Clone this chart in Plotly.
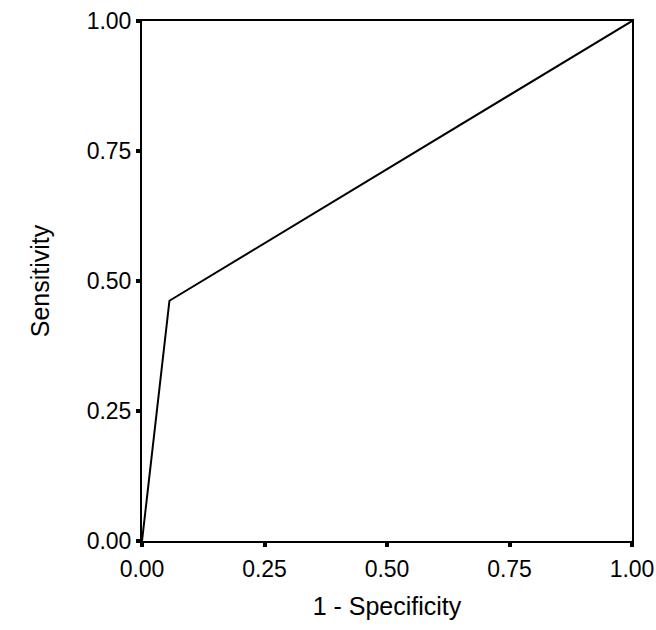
import plotly.graph_objects as go

fpr = [0.0, 0.056, 1.0]
tpr = [0.0, 0.462, 1.0]
tick_vals = [0.0, 0.25, 0.5, 0.75, 1.0]
tick_text = ["0.00", "0.25", "0.50", "0.75", "1.00"]

fig = go.Figure()
fig.add_trace(go.Scatter(x=fpr, y=tpr, mode="lines",
                         line=dict(color="black", width=2), showlegend=False,
                         cliponaxis=False))

font = dict(family="Liberation Sans, Arial, sans-serif", color="black")
axis_common = dict(
    range=[0, 1], tickvals=tick_vals, ticktext=tick_text,
    ticks="outside", ticklen=4, tickwidth=4, tickcolor="black",
    showline=True, linecolor="black", linewidth=2, mirror=True,
    showgrid=False, zeroline=False, automargin=False,
    tickfont=dict(size=23, **font),
)
fig.update_layout(
    width=656, height=630,
    margin=dict(l=142, r=24, t=21, b=89),
    paper_bgcolor="white", plot_bgcolor="white",
    xaxis=dict(**axis_common, ticklabelstandoff=2,
               title=dict(text="1 - Specificity", font=dict(size=25, **font), standoff=17)),
    yaxis=dict(**axis_common, ticklabelstandoff=0,
               title=dict(text="Sensitivity", font=dict(size=25, **font), standoff=30)),
)
fig.write_html("out.html", config={"displayModeBar": False},
               post_script="document.body.style.margin='0';document.body.style.padding='0';")
